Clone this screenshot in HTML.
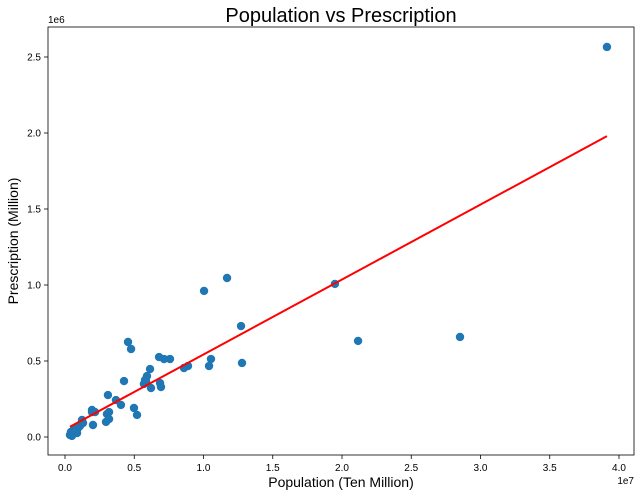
<!DOCTYPE html>
<html><head><meta charset="utf-8"><style>
body{margin:0;background:#fff;}
svg{display:block;font-family:"Liberation Sans","DejaVu Sans",sans-serif;}
</style></head><body>
<svg id="chart" width="640" height="496"></svg>
<script>
const population = [39.13,28.52,21.16,19.49,11.70,10.04,12.71,12.78,10.54,10.40,8.88,8.59,7.58,7.15,6.79,6.86,6.93,4.55,4.77,6.14,5.92,5.85,5.70,5.78,6.21,4.26,3.68,3.10,4.04,4.98,5.20,1.95,1.95,2.17,3.18,3.03,3.18,2.96,2.02,1.23,0.43,0.65,0.94,1.08,0.58,0.87,0.36,0.50,0.65,0.79,1.08,1.30].map(v=>v*1e6);
const prescriptions = [2.566,0.658,0.632,1.007,1.046,0.961,0.730,0.487,0.513,0.467,0.467,0.454,0.513,0.513,0.526,0.355,0.329,0.625,0.579,0.447,0.401,0.368,0.349,0.375,0.322,0.368,0.243,0.276,0.211,0.191,0.145,0.178,0.164,0.164,0.164,0.151,0.118,0.099,0.079,0.112,0.033,0.053,0.059,0.079,0.020,0.026,0.013,0.007,0.040,0.046,0.072,0.092].map(v=>v*1e6);
const fitSlope = [0.0493];
const fitIntercept = [50000];
const xTicks = [0,0.5,1.0,1.5,2.0,2.5,3.0,3.5,4.0];
const yTicks = [0,0.5,1.0,1.5,2.0,2.5];

const svg=document.getElementById('chart');
const NS='http://www.w3.org/2000/svg';
const L=48,R=634,T=27,B=455;
const xs=v=>65+v/1e7*138.5;
const ys=v=>437-v/1e6*152;
function mk(tag,attrs,parent){const e=document.createElementNS(NS,tag);for(const k in attrs)e.setAttribute(k,attrs[k]);(parent||svg).appendChild(e);return e;}

const title=mk('text',{x:341,y:22,'text-anchor':'middle','font-size':20,fill:'#000'});
title.textContent='Population vs Prescription';



const gx=mk('g',{});


xTicks.forEach(t=>{const x=xs(t*1e7);mk('line',{x1:x,x2:x,y1:B,y2:B+4,stroke:'#000','stroke-width':0.8},gx);
const tx=mk('text',{x:x,y:B+16,'text-anchor':'middle','font-size':10,fill:'#000'},gx);tx.textContent=t.toFixed(1);

});
const gy=mk('g',{});


yTicks.forEach(t=>{const y=ys(t*1e6);mk('line',{x1:L-4,x2:L,y1:y,y2:y,stroke:'#000','stroke-width':0.8},gy);
const ty=mk('text',{x:L-7,y:y+3.5,'text-anchor':'end','font-size':10,fill:'#000'},gy);ty.textContent=t.toFixed(1);

});

const e1=mk('text',{x:L,y:23,'font-size':10,fill:'#000'});e1.textContent='1e6';


const e2=mk('text',{x:634,y:484,'text-anchor':'end','font-size':10,fill:'#000'});e2.textContent='1e7';



const xl=mk('text',{x:341,y:487,'text-anchor':'middle','font-size':14,fill:'#000'});xl.textContent='Population (Ten Million)';


const yl=mk('text',{x:0,y:0,'text-anchor':'middle','font-size':14,fill:'#000',transform:'translate(18,241) rotate(-90)'});yl.textContent='Prescription (Million)';



const gp=mk('g',{});


population.forEach((p,i)=>{const c=mk('circle',{cx:xs(p),cy:ys(prescriptions[i]),r:4.2,fill:'#1f77b4'},gp);

});

const xmin=Math.min(...population),xmax=Math.max(...population);
const ln=mk('line',{x1:xs(xmin),y1:ys(fitSlope[0]*xmin+fitIntercept[0]),x2:xs(xmax),y2:ys(fitSlope[0]*xmax+fitIntercept[0]),stroke:'#ff0000','stroke-width':2});



const fr=mk('rect',{x:L,y:T,width:R-L,height:B-T,fill:'none',stroke:'#000','stroke-width':0.8});


</script>
</body></html>
